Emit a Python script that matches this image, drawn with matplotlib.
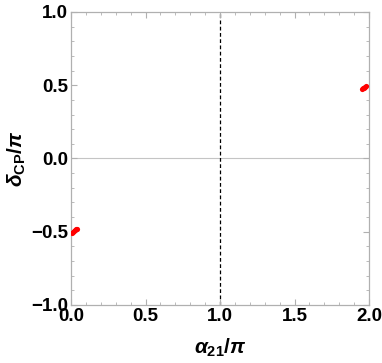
import matplotlib.pyplot as plt
from matplotlib.ticker import MultipleLocator

# scan points (alpha21/pi, deltaCP/pi)
alpha_left = [0.004, 0.010, 0.017, 0.024, 0.031, 0.037]
delta_left = [-0.506, -0.500, -0.494, -0.489, -0.484, -0.480]
alpha_right = [1.953, 1.960, 1.967, 1.974, 1.980]
delta_right = [0.472, 0.478, 0.484, 0.490, 0.495]

xticks = [0.0, 0.5, 1.0, 1.5, 2.0]
yticks = [-1.0, -0.5, 0.0, 0.5, 1.0]

plt.rcParams["font.family"] = ["Liberation Sans", "DejaVu Sans"]
plt.rcParams["mathtext.fontset"] = "custom"
plt.rcParams["mathtext.it"] = "Liberation Sans:bold:italic"
plt.rcParams["mathtext.rm"] = "Liberation Sans:bold"
plt.rcParams["mathtext.bf"] = "Liberation Sans:bold"

fig = plt.figure(figsize=(3.82, 3.63), dpi=100)
ax = fig.add_axes([0.186, 0.160, 0.780, 0.807])

ax.axhline(0.0, color="#c4c4c4", lw=0.8, zorder=1)
ax.axvline(1.0, color="black", lw=0.9, ls=(0, (3, 2)), zorder=1)

ax.scatter(alpha_left, delta_left, s=14, color="red", lw=0, zorder=3)
ax.scatter(alpha_right, delta_right, s=14, color="red", lw=0, zorder=3)

ax.set_xlim(0, 2)
ax.set_ylim(-1, 1)
ax.set_xticks(xticks)
ax.set_yticks(yticks)
ax.set_xticklabels([f"{v:.1f}" for v in xticks])
ax.set_yticklabels([f"{v:.1f}".replace("-", "\u2212") for v in yticks])
ax.xaxis.set_minor_locator(MultipleLocator(0.1))
ax.yaxis.set_minor_locator(MultipleLocator(0.1))

for s in ax.spines.values():
    s.set_color("#b0b0b0")
    s.set_linewidth(0.9)
ax.tick_params(which="both", direction="in", color="#b0b0b0", top=True, right=True,
               labelsize=13.5, pad=2)
ax.tick_params(which="major", length=4, width=0.8)
ax.tick_params(which="minor", length=2.2, width=0.6)
for lab in ax.get_xticklabels() + ax.get_yticklabels():
    lab.set_fontweight("bold")

ax.set_xlabel(r"$\alpha_{21}/\pi$", fontsize=15, labelpad=9)
ax.set_ylabel(r"$\delta_{\rm CP}/\pi$", fontsize=15, labelpad=2)

fig.savefig("out.png", dpi=100)
